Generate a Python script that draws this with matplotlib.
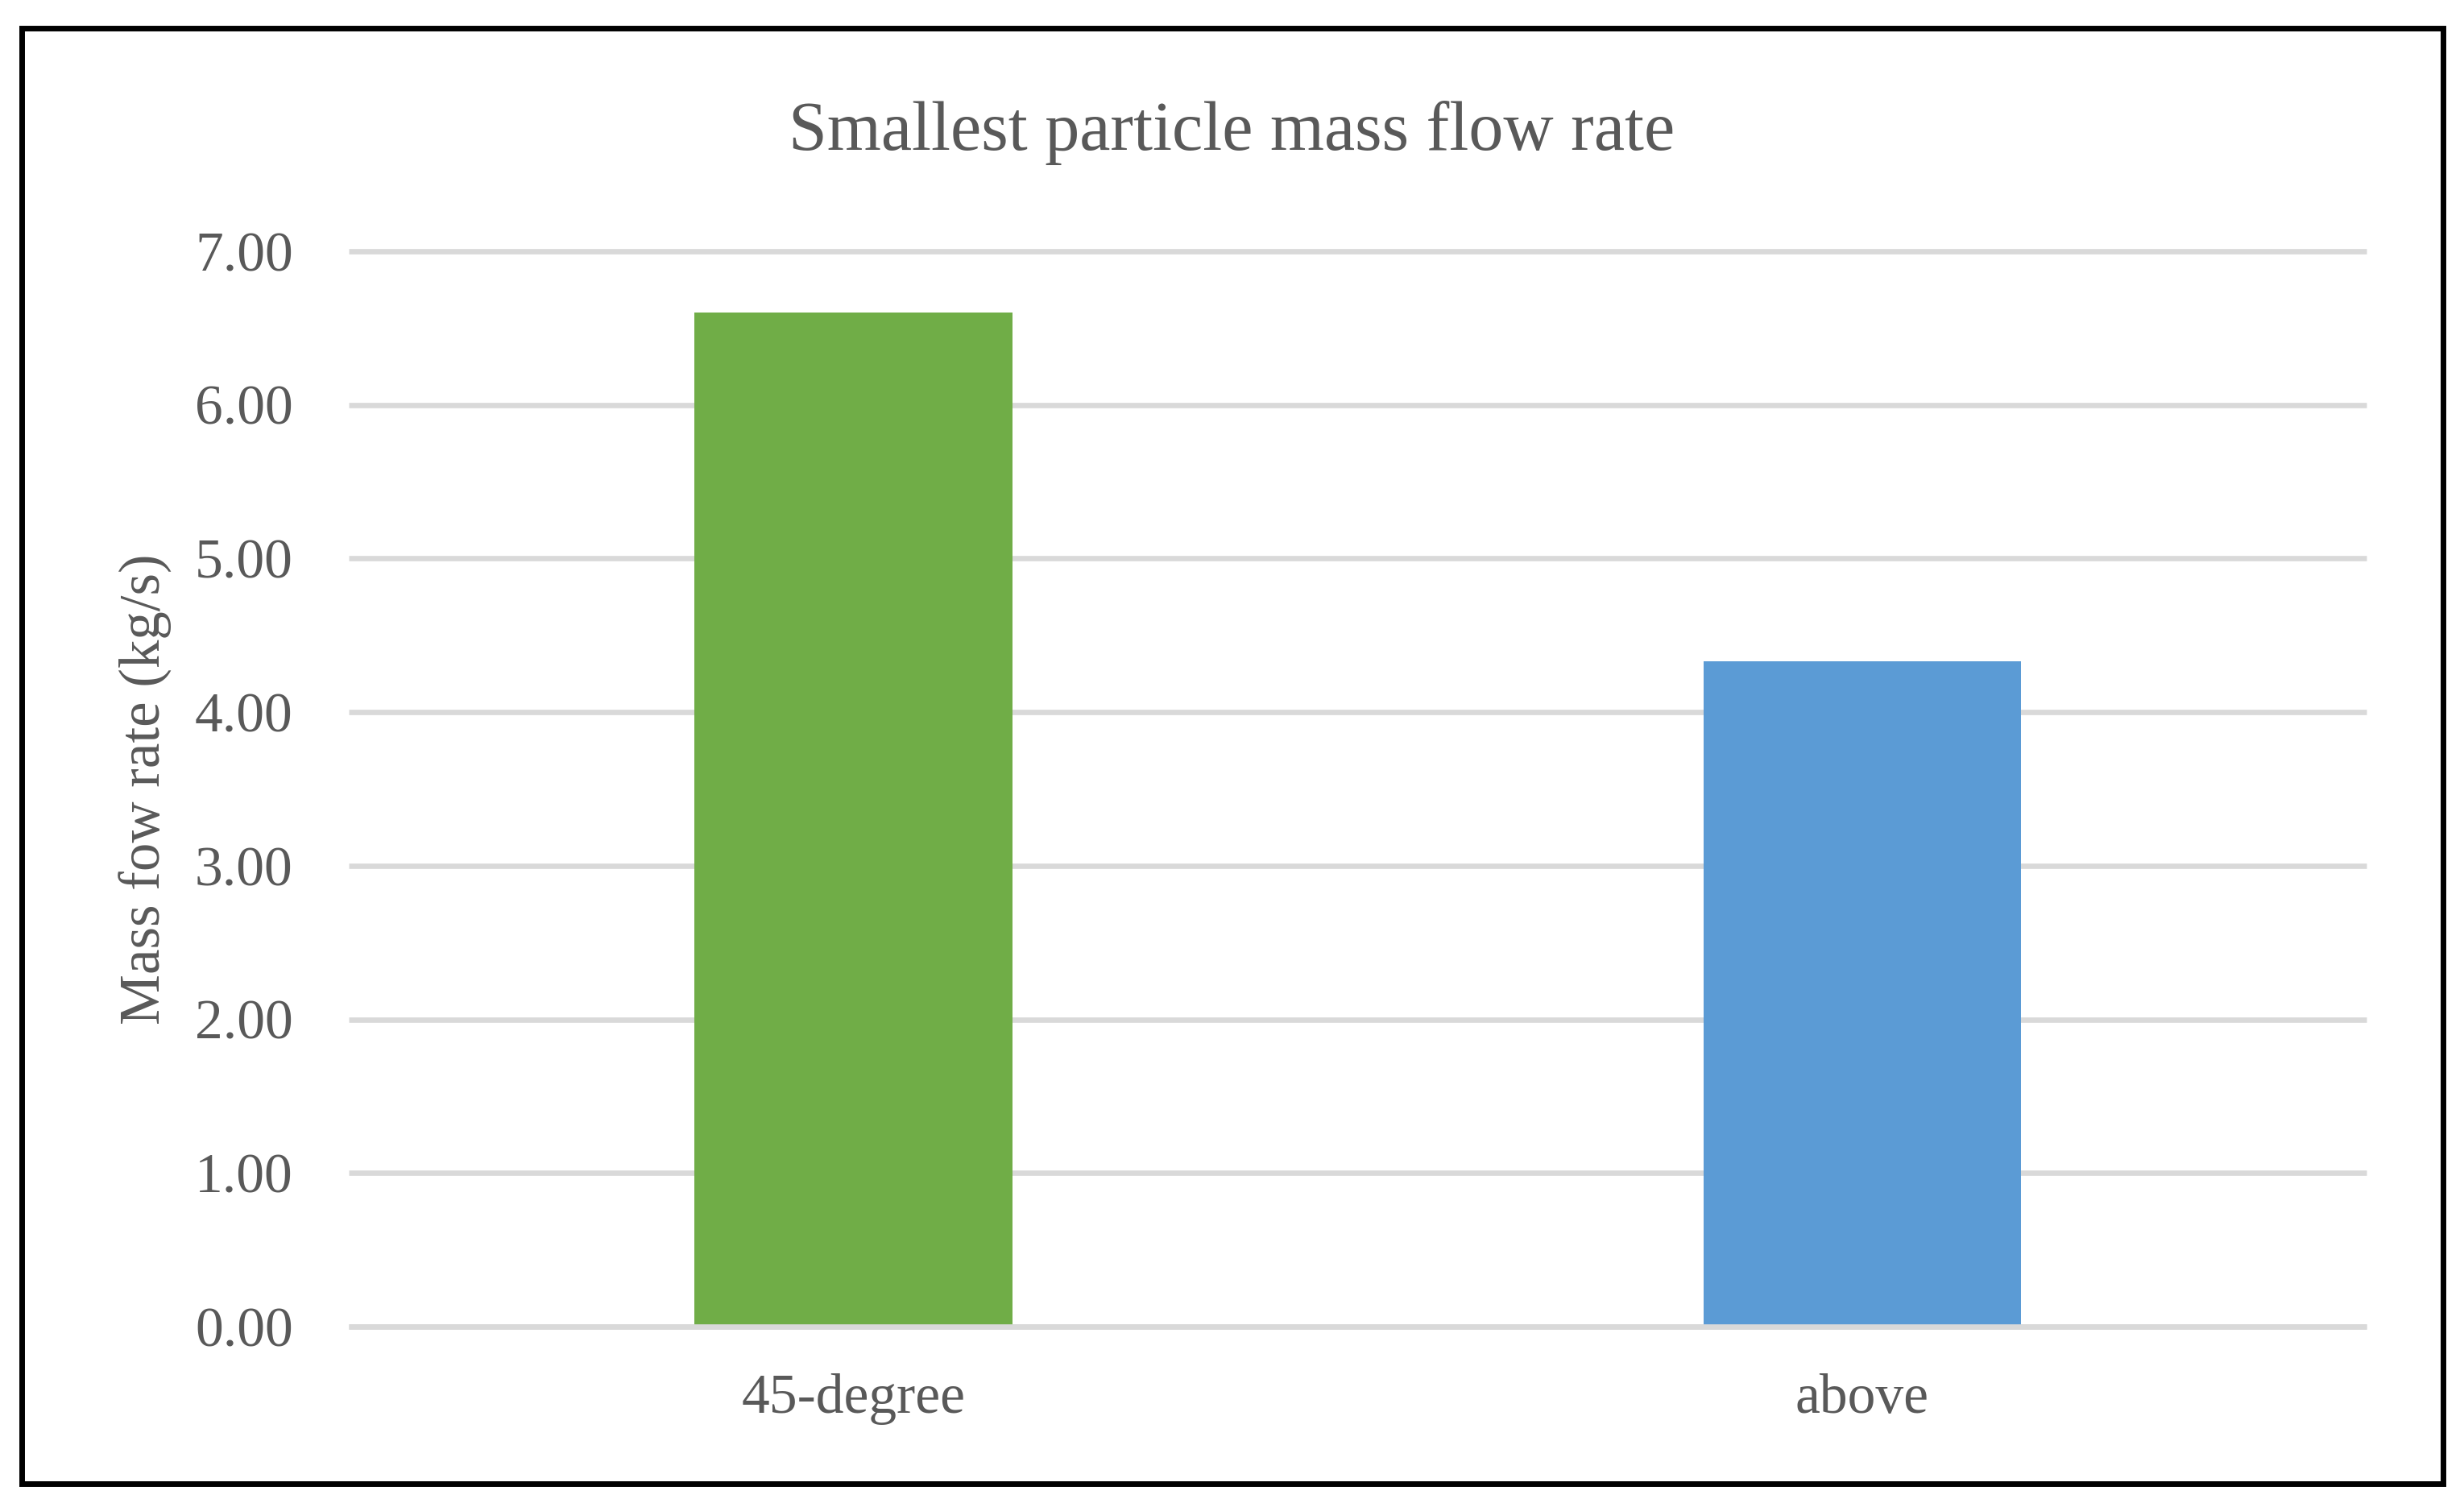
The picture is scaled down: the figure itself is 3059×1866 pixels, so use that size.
import matplotlib.pyplot as plt
from matplotlib.patches import Rectangle

categories = ["45-degree", "above"]
flow_rate = [6.60, 4.33]
bar_colors = ["#70ad47", "#5b9bd5"]
y_ticks = [0, 1, 2, 3, 4, 5, 6, 7]

TEXT = "#595959"
GRID = "#d9d9d9"

plt.rcParams["font.family"] = ["Liberation Serif", "DejaVu Serif"]

fig = plt.figure(figsize=(30.59, 18.66), dpi=100)
ax = fig.add_axes([0.1416, 0.1174, 0.8189, 0.7154])

ax.bar(range(len(categories)), flow_rate, width=0.315, color=bar_colors, zorder=3)
ax.set_xlim(-0.5, len(categories) - 0.5)
ax.set_ylim(0, 7)
ax.set_yticks(y_ticks)
ax.set_yticklabels([f"{v:.2f}" for v in y_ticks])
ax.set_xticks(range(len(categories)))
ax.set_xticklabels(categories)
ax.tick_params(length=0, labelsize=50, labelcolor=TEXT)
ax.tick_params(axis="y", pad=50)
ax.tick_params(axis="x", pad=42)
ax.grid(axis="y", color=GRID, linewidth=4.8, zorder=0, solid_capstyle="butt")
for gl in ax.get_ygridlines():
    gl.set_clip_on(False)
# baseline sits over the bar feet, as in the original
ax.axhline(0, color=GRID, linewidth=4.8, zorder=4, clip_on=False,
           solid_capstyle="butt")
for s in ax.spines.values():
    s.set_visible(False)

ax.set_ylabel("Mass fow rate (kg/s)", fontsize=51, color=TEXT, labelpad=20)
fig.text(0.5, 1 - 186 / 1866, "Smallest particle mass flow rate", ha="center",
         va="baseline", fontsize=62, color=TEXT)

fig.patches.append(Rectangle((27 / 3059, 1 - 1842 / 1866), 3006 / 3059, 1807 / 1866,
                             transform=fig.transFigure, fill=False,
                             edgecolor="black", linewidth=5))

fig.savefig("out.png", dpi=100, facecolor="white")
